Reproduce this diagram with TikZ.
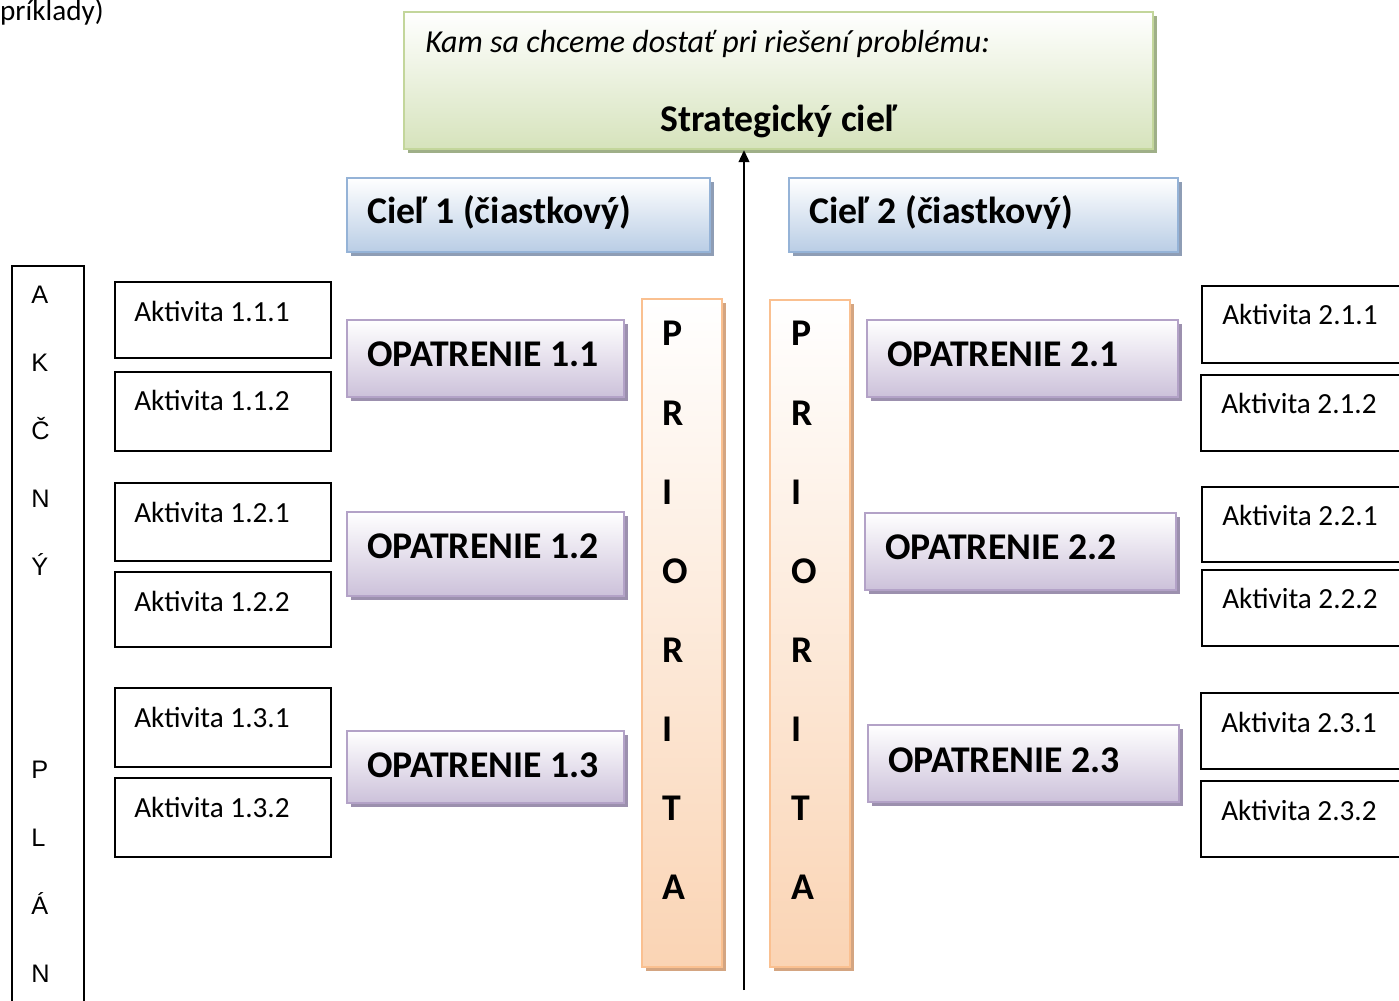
\documentclass[tikz,border=0pt]{standalone}
\usepackage{fontspec}
\setmainfont{Carlito}
\newfontfamily\arialf{Liberation Sans}
\usetikzlibrary{shadows,arrows.meta}
\definecolor{grB}{HTML}{C3D69B}
\definecolor{grF}{HTML}{D6E3BC}
\definecolor{grS}{HTML}{9FAF88}
\definecolor{blB}{HTML}{95B3D7}
\definecolor{blF}{HTML}{B9CDE5}
\definecolor{blS}{HTML}{8E9DB5}
\definecolor{puB}{HTML}{B3A2C7}
\definecolor{puF}{HTML}{CCC1DA}
\definecolor{puS}{HTML}{9C90AE}
\definecolor{orB}{HTML}{FAC090}
\definecolor{orF}{HTML}{FAD4B4}
\definecolor{orS}{HTML}{D4A581}
\newcommand\bx[6]{%
  \node[#2, anchor=north west, inner sep=0pt,
        minimum width={(#5-#3)*0.75pt}, minimum height={(#6-#4)*0.75pt}] (#1) at (#3,#4) {};}
\begin{document}
\begin{tikzpicture}[x=0.75pt,y=-0.75pt,
  greenbox/.style={draw=grB, line width=1.6pt, top color=white, bottom color=grF,
     drop shadow={shadow xshift=3pt, shadow yshift=-3pt, fill=grS, opacity=1}},
  bluebox/.style={draw=blB, line width=1.6pt, top color=white, bottom color=blF,
     drop shadow={shadow xshift=3pt, shadow yshift=-3pt, fill=blS, opacity=1}},
  purplebox/.style={draw=puB, line width=1.6pt, top color=white, bottom color=puF,
     drop shadow={shadow xshift=3pt, shadow yshift=-3pt, fill=puS, opacity=1}},
  orangebox/.style={draw=orB, line width=1.6pt, top color=white, bottom color=orF,
     drop shadow={shadow xshift=3pt, shadow yshift=-3pt, fill=orS, opacity=1}},
  plainbox/.style={draw=black, line width=1.3pt, fill=white},
  akttext/.style={font=\fontsize{21.9}{26}\selectfont, anchor=base west, inner sep=0pt},
  boldtext/.style={font=\fontsize{28.3}{34}\selectfont\bfseries, anchor=base west, inner sep=0pt},
  ittext/.style={font=\fontsize{24}{29}\selectfont\itshape, anchor=base west, inner sep=0pt},
  plantext/.style={font=\fontsize{19}{23}\selectfont\arialf, anchor=base west, inner sep=0pt},
  arrowline/.style={line width=1.5pt, -{Triangle[length=9pt,width=8pt]}}
]
\useasboundingbox (0,0) rectangle (1399,1000);

% top-left text
\node[akttext, anchor=base east] (pr) at (104,20) {príklady)};

% strategic goal
\bx{strat}{greenbox}{403}{11}{1152}{148}
\node[ittext] (q) at (425,52) {Kam sa chceme dostať pri riešení problému:};
\node[boldtext, anchor=base] (sc) at (778.5,131) {Strategický cieľ};

% partial goals
\bx{c1}{bluebox}{346}{177}{709}{251}
\node[boldtext] (c1t) at (367,223) {Cieľ 1 (čiastkový)};
\bx{c2}{bluebox}{788}{177}{1177}{251}
\node[boldtext] (c2t) at (809,223) {Cieľ 2 (čiastkový)};

% priority columns
\bx{p1}{orangebox}{641}{298}{721}{966}
\bx{p2}{orangebox}{769}{299}{849}{966}
\foreach \l/\y [count=\i] in {P/345,R/425,I/504,O/583,R/662,I/741,T/820,A/899}{
  \node[boldtext] (pa\i) at (662,\y) {\l};
  \node[boldtext] (pb\i) at (791,\y) {\l};
}

% arrow
\coordinate (abot) at (744,990);
\draw[arrowline] (abot) -- (abot |- strat.south);

% measures
\bx{o11}{purplebox}{346}{319}{623}{396}
\node[boldtext] (o11t) at (367,366) {OPATRENIE 1.1};
\bx{o12}{purplebox}{346}{511}{623}{595}
\node[boldtext] (o12t) at (367,558) {OPATRENIE 1.2};
\bx{o13}{purplebox}{346}{730}{623}{802}
\node[boldtext] (o13t) at (367,777) {OPATRENIE 1.3};
\bx{o21}{purplebox}{866}{319}{1177}{396}
\node[boldtext] (o21t) at (887,366) {OPATRENIE 2.1};
\bx{o22}{purplebox}{864}{512}{1175}{589}
\node[boldtext] (o22t) at (885,559) {OPATRENIE 2.2};
\bx{o23}{purplebox}{867}{724}{1178}{801}
\node[boldtext] (o23t) at (888,772) {OPATRENIE 2.3};

% activities left
\bx{a111}{plainbox}{114}{281}{330}{357}
\node[akttext] (a111t) at (134,321) {Aktivita 1.1.1};
\bx{a112}{plainbox}{114}{371}{330}{450}
\node[akttext] (a112t) at (134,410) {Aktivita 1.1.2};
\bx{a121}{plainbox}{114}{482}{330}{560}
\node[akttext] (a121t) at (134,522) {Aktivita 1.2.1};
\bx{a122}{plainbox}{114}{571}{330}{646}
\node[akttext] (a122t) at (134,611) {Aktivita 1.2.2};
\bx{a131}{plainbox}{114}{687}{330}{766}
\node[akttext] (a131t) at (134,727) {Aktivita 1.3.1};
\bx{a132}{plainbox}{114}{777}{330}{856}
\node[akttext] (a132t) at (134,817) {Aktivita 1.3.2};

% activities right
\bx{a211}{plainbox}{1201}{285}{1412}{362}
\node[akttext] (a211t) at (1222,324) {Aktivita 2.1.1};
\bx{a212}{plainbox}{1200}{374}{1412}{450}
\node[akttext] (a212t) at (1221,413) {Aktivita 2.1.2};
\bx{a221}{plainbox}{1201}{486}{1412}{561}
\node[akttext] (a221t) at (1222,525) {Aktivita 2.2.1};
\bx{a222}{plainbox}{1201}{569}{1412}{645}
\node[akttext] (a222t) at (1222,608) {Aktivita 2.2.2};
\bx{a231}{plainbox}{1200}{692}{1412}{768}
\node[akttext] (a231t) at (1221,732) {Aktivita 2.3.1};
\bx{a232}{plainbox}{1200}{780}{1412}{856}
\node[akttext] (a232t) at (1221,820) {Aktivita 2.3.2};

% action plan column
\bx{plan}{plainbox}{11}{265}{83}{1012}
\foreach \l/\y [count=\i] in {A/303,K/371,Č/439,N/507,Ý/575,P/778,L/846,Á/914,N/982}{
  \node[plantext] (pl\i) at (31,\y) {\l};
}
\end{tikzpicture}
\end{document}
